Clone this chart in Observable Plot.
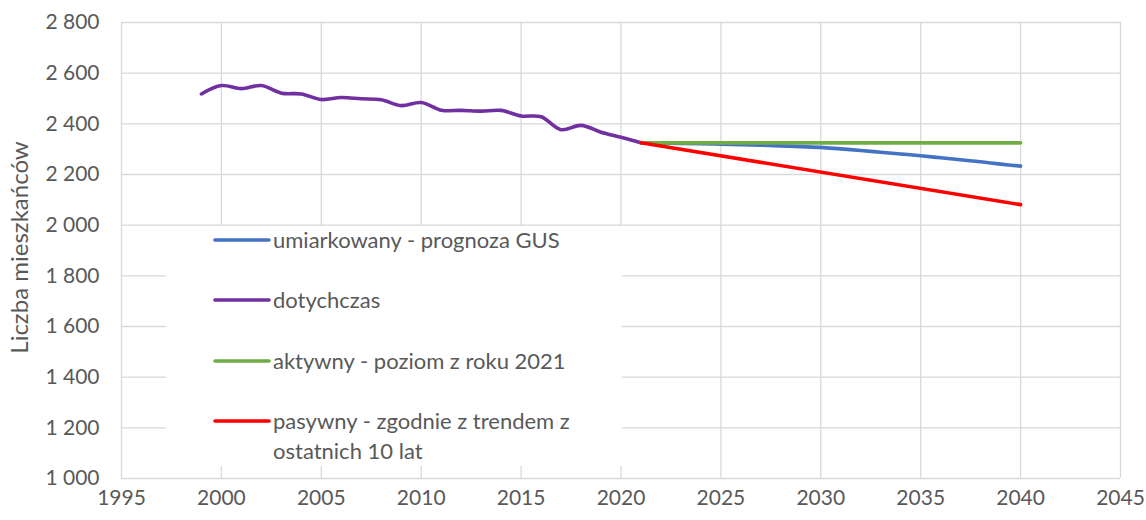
<!DOCTYPE html>
<html>
<head>
<meta charset="utf-8">
<script src="https://cdn.jsdelivr.net/npm/d3@7"></script>
<script src="https://cdn.jsdelivr.net/npm/@observablehq/plot@0.6"></script>
<style>
  html, body { margin: 0; padding: 0; background: #fff; }
  #chart { position: relative; width: 1146px; height: 520px; }
</style>
</head>
<body>
<div id="chart"></div>
<script>
// ---- data ----
const historyYears = [1999,2000,2001,2002,2003,2004,2005,2006,2007,2008,2009,2010,2011,2012,2013,2014,2015,2016,2017,2018,2019,2020,2021];
const historyValues = [2518,2551,2539,2551,2521,2518,2496,2504,2499,2495,2472,2484,2454,2453,2450,2453,2431,2428,2377,2394,2367,2347,2325];

const gusYears = [2021,2022,2023,2024,2025,2026,2027,2028,2029,2030,2031,2032,2033,2034,2035,2036,2037,2038,2039,2040];
const gusValues = [2325,2324,2323,2322,2320,2318,2316,2313,2310,2307,2301,2295,2288,2281,2274,2266,2258,2250,2241,2233];

const activeYears = [2021, 2040];
const activeValues = [2325, 2325];

const passiveYears = [2021, 2040];
const passiveValues = [2325, 2081];

const seriesNames = [
  "umiarkowany - prognoza GUS",
  "dotychczas",
  "aktywny - poziom z roku 2021",
  "pasywny - zgodnie z trendem z ostatnich 10 lat"
];
const seriesColors = ["#4472C4", "#7030A0", "#70AD47", "#FF0000"];
const legendLines = [
  ["umiarkowany - prognoza GUS"],
  ["dotychczas"],
  ["aktywny - poziom z roku 2021"],
  ["pasywny - zgodnie z trendem z", "ostatnich 10 lat"]
];

const xTicks = [1995,2000,2005,2010,2015,2020,2025,2030,2035,2040,2045];
const yTicks = [1000,1200,1400,1600,1800,2000,2200,2400,2600,2800];
const yTitle = "Liczba mieszkańców";

// ---- build rows ----
const toRows = (years, values, s) => years.map((y, i) => ({year: y, value: values[i], series: s}));
const history = toRows(historyYears, historyValues, seriesNames[1]);
const gus = toRows(gusYears, gusValues, seriesNames[0]);
const active = toRows(activeYears, activeValues, seriesNames[2]);
const passive = toRows(passiveYears, passiveValues, seriesNames[3]);

const locale = d3.formatLocale({decimal: ",", thousands: "\u00a0", grouping: [3], currency: ["", " zł"]});
const fmt = locale.format(",d");

const FONT = "Lato, 'Open Sans', sans-serif";
const TXT = "#595959";
const GRID = "#d9d9d9";

const plot = Plot.plot({
  width: 1146,
  height: 520,
  marginLeft: 121,
  marginRight: 26,
  marginTop: 22,
  marginBottom: 42,
  style: {fontFamily: FONT, fontSize: "21px", color: TXT, background: "#fff"},
  x: {domain: [1995, 2045], ticks: xTicks, tickFormat: d => String(d)},
  y: {domain: [1000, 2800], ticks: yTicks, tickFormat: fmt},
  marks: [
    Plot.gridX(xTicks, {stroke: GRID, strokeOpacity: 1, strokeWidth: 1.3}),
    Plot.gridY(yTicks, {stroke: GRID, strokeOpacity: 1, strokeWidth: 1.3}),
    Plot.axisX({ticks: xTicks, tickSize: 0, tickPadding: 12, label: null, fontSize: 21, tickFormat: d => String(d)}),
    Plot.axisY({ticks: yTicks, tickSize: 0, tickPadding: 22, label: null, fontSize: 21, tickFormat: fmt}),
    Plot.text([yTitle], {frameAnchor: "left", text: d => d, rotate: -90, dx: -101, dy: -3, fontSize: 24, fill: TXT, textAnchor: "middle"}),
    Plot.line(history, {x: "year", y: "value", stroke: seriesColors[1], strokeWidth: 3.6, curve: "catmull-rom"}),
    Plot.line(gus, {x: "year", y: "value", stroke: seriesColors[0], strokeWidth: 3.6, curve: "catmull-rom"}),
    Plot.line(active, {x: "year", y: "value", stroke: seriesColors[2], strokeWidth: 3.6}),
    Plot.line(passive, {x: "year", y: "value", stroke: seriesColors[3], strokeWidth: 3.6})
  ]
});

document.getElementById("chart").appendChild(plot);

// ---- legend inside plot area (white box over gridlines) ----
const svg = d3.select(plot);
const lg = svg.append("g").attr("class", "legend").attr("text-anchor", "start");
lg.append("rect").attr("x", 166).attr("y", 226).attr("width", 456).attr("height", 240).attr("fill", "#fff");
const rowY = [240, 300, 361, 421];
legendLines.forEach((lines, i) => {
  lg.append("line")
    .attr("x1", 215).attr("x2", 269)
    .attr("y1", rowY[i]).attr("y2", rowY[i])
    .attr("stroke", seriesColors[i]).attr("stroke-width", 3.6).attr("stroke-linecap", "round");
  lines.forEach((t, j) => {
    lg.append("text")
      .attr("x", 273).attr("y", rowY[i] + j * 30)
      .attr("dy", "0.35em")
      .attr("text-anchor", "start")
      .attr("fill", TXT)
      .style("font-family", FONT).style("font-size", "22px")
      .text(t);
  });
});
</script>
</body>
</html>
